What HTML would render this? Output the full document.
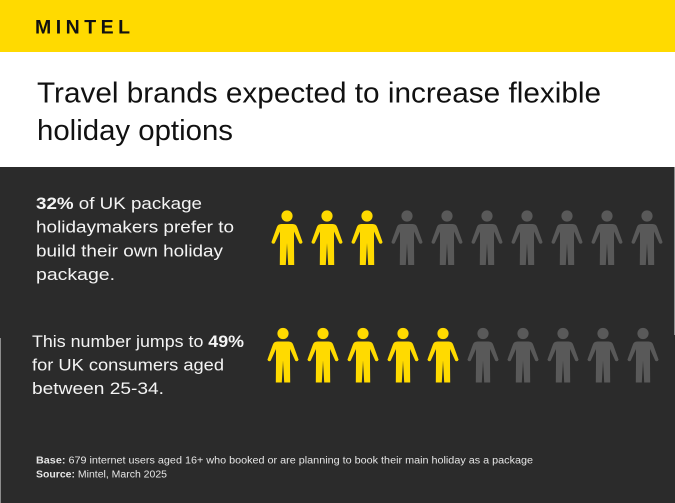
<!DOCTYPE html>
<html>
<head>
<meta charset="utf-8">
<style>
  html, body { margin:0; padding:0; background:#2b2b2b; }
  body { width:675px; height:503px; overflow:hidden; }
  svg { display:block; }
  text { font-family: "Liberation Sans", "DejaVu Sans", sans-serif; }
</style>
</head>
<body>
<svg width="675" height="503" viewBox="0 0 675 503" xmlns="http://www.w3.org/2000/svg">
  <defs>
    <g id="p">
      <circle cx="0" cy="0" r="5.6"/>
      <path d="M0,27 L1.2,49 L7.2,49 L7,28 L7,15.5 L12.3,27.3 Q14.4,28.6 15.6,26.2 L10.2,11.2 Q9,8 5.5,8 L-5.5,8 Q-9,8 -10.2,11.2 L-15.6,26.2 Q-14.4,28.6 -12.3,27.3 L-7,15.5 L-7,28 L-7.2,49 L-1.2,49 Z"/>
    </g>
  </defs>

  <!-- backgrounds -->
  <rect x="0" y="0" width="675" height="52" fill="#FFDA00"/>
  <rect x="0" y="52" width="675" height="115" fill="#ffffff"/>
  <rect x="0" y="167" width="675" height="336" fill="#2b2b2b"/>
  <rect x="674" y="167" width="1" height="168" fill="#8c8c8c"/>
  <rect x="0" y="338" width="1" height="165" fill="#8c8c8c"/>

  <!-- header -->
  <text x="35" y="33.3" font-size="19.5" font-weight="bold" fill="#111" textLength="95" lengthAdjust="spacing">MINTEL</text>

  <!-- title -->
  <text x="37" y="102.3" font-size="29" fill="#111" textLength="564" lengthAdjust="spacingAndGlyphs">Travel brands expected to increase flexible</text>
  <text x="37" y="140" font-size="29" fill="#111" textLength="196" lengthAdjust="spacingAndGlyphs">holiday options</text>

  <!-- block 1 -->
  <g fill="#f4f4f4" font-size="17">
    <text x="36" y="209" textLength="166" lengthAdjust="spacingAndGlyphs"><tspan font-weight="bold">32%</tspan> of UK package</text>
    <text x="36" y="232.6" textLength="198" lengthAdjust="spacingAndGlyphs">holidaymakers prefer to</text>
    <text x="36" y="256.4" textLength="187" lengthAdjust="spacingAndGlyphs">build their own holiday</text>
    <text x="36" y="280.2" textLength="79" lengthAdjust="spacingAndGlyphs">package.</text>
  </g>

  <!-- block 2 -->
  <g fill="#f4f4f4" font-size="17">
    <text x="32" y="347" textLength="212" lengthAdjust="spacingAndGlyphs">This number jumps to <tspan font-weight="bold">49%</tspan></text>
    <text x="32" y="370.5" textLength="192" lengthAdjust="spacingAndGlyphs">for UK consumers aged</text>
    <text x="32" y="394" textLength="132" lengthAdjust="spacingAndGlyphs">between 25-34.</text>
  </g>

  <!-- row 1 icons -->
  <g fill="#FFDA00">
    <use href="#p" x="287" y="216"/>
    <use href="#p" x="327" y="216"/>
    <use href="#p" x="367" y="216"/>
  </g>
  <g fill="#595959">
    <use href="#p" x="407" y="216"/>
    <use href="#p" x="447" y="216"/>
    <use href="#p" x="487" y="216"/>
    <use href="#p" x="527" y="216"/>
    <use href="#p" x="567" y="216"/>
    <use href="#p" x="607" y="216"/>
    <use href="#p" x="647" y="216"/>
  </g>

  <!-- row 2 icons -->
  <g fill="#FFDA00">
    <use href="#p" x="283" y="333.5"/>
    <use href="#p" x="323" y="333.5"/>
    <use href="#p" x="363" y="333.5"/>
    <use href="#p" x="403" y="333.5"/>
    <use href="#p" x="443" y="333.5"/>
  </g>
  <g fill="#595959">
    <use href="#p" x="483" y="333.5"/>
    <use href="#p" x="523" y="333.5"/>
    <use href="#p" x="563" y="333.5"/>
    <use href="#p" x="603" y="333.5"/>
    <use href="#p" x="643" y="333.5"/>
  </g>

  <!-- footer -->
  <g fill="#e6e6e6" font-size="10">
    <text x="36" y="463.5" textLength="497" lengthAdjust="spacingAndGlyphs"><tspan font-weight="bold">Base:</tspan> 679 internet users aged 16+ who booked or are planning to book their main holiday as a package</text>
    <text x="36" y="477.5" textLength="131" lengthAdjust="spacingAndGlyphs"><tspan font-weight="bold">Source:</tspan> Mintel, March 2025</text>
  </g>
</svg>
</body>
</html>
